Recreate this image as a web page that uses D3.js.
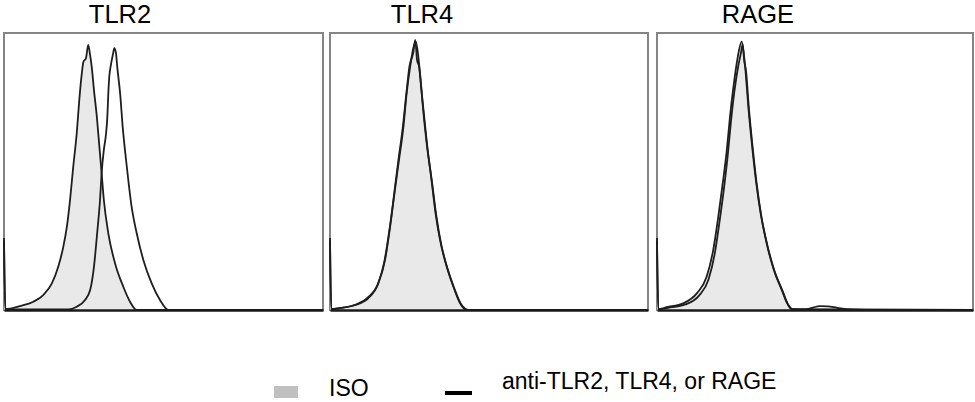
<!DOCTYPE html>
<html>
<head>
<meta charset="utf-8">
<script src="https://cdn.jsdelivr.net/npm/d3@7"></script>
<style>
  body { margin: 0; background: #fff; }
  text { font-family: "Liberation Sans", Arial, sans-serif; fill: #000; }
</style>
</head>
<body>
<svg id="chart" width="975" height="402"></svg>
<script>
// markers, one panel each
var markers = ["TLR2", "TLR4", "RAGE"];

// histogram traces: [channel (0-1000), % of max count]
var isoTLR2 = [[0,26],[4,0.3],[50,1.4],[92,3],[123,5.4],[150,9.6],[170,15.6],[186,22.9],[197,30],[207,39.7],[217,51.7],[228,63.8],[236,75.8],[244,85.5],[249,89.6],[257,90.9],[264,95.7],[270,92],[275,87.8],[282,79.4],[291,69.8],[299,59],[306,49.4],[313,39.7],[327,27.7],[348,16.9],[374,8.4],[395,3],[416,0],[1000,0]];
var antiTLR2 = [[0,25],[4,0.3],[202,0.2],[228,1.2],[254,3.6],[270,7.2],[282,15.6],[292,27.7],[301,39.7],[306,49.4],[313,57.8],[320,63.8],[324,69.8],[327,78.2],[330,84.2],[335,88.4],[341,92],[346,94.5],[351,92.7],[355,87.8],[364,78.2],[372,66.2],[385,51.7],[400,37.3],[416,27.7],[437,18],[463,9.6],[489,3.6],[515,0],[1000,0]];

var isoTLR4 = [[0,26],[4,0.3],[26,0.6],[79,1.8],[120,4.2],[152,9.6],[173,18],[189,30],[204,43.3],[217,54.2],[231,66.2],[241,78.2],[252,87.8],[270,96.9],[283,85.5],[293,72.2],[304,60.2],[318,48.1],[332,34.9],[346,25.3],[364,16.9],[388,8.4],[409,2.4],[430,0],[1000,0]];
var antiTLR4 = [[0,25],[4,0.3],[30,0.7],[82,2],[122,4.8],[150,9.2],[170,17],[187,29],[203,43],[215,54],[229,66],[240,78],[250,88],[262,93],[268,97.5],[274,90],[280,88],[287,80],[296,70],[307,58],[321,46],[335,33.5],[350,23.5],[368,15.5],[392,7.5],[413,2],[436,0],[1000,0]];

var isoRAGE = [[0,26],[4,0.3],[31,1],[83,2.4],[126,6],[157,12],[178,21.7],[194,33.7],[208,45.7],[221,57.8],[231,69.8],[242,80.6],[254,90.3],[268,96.9],[279,87.8],[289,73.4],[300,60.2],[313,46.9],[328,34.9],[347,24.1],[370,14.4],[395,7.2],[412,2.4],[426,0.3],[1000,0]];
var antiRAGE = [[0,25],[4,0.3],[35,0.8],[90,2],[133,5.2],[163,11],[183,20.5],[198,32],[212,44],[224,56],[234,68],[245,79],[257,88],[266,93],[271,96],[276,90],[282,86],[291,72.5],[302,59.5],[315,46],[330,34],[349,23.5],[372,14],[397,7],[414,2.2],[430,0.3],[470,0.2],[494,0.9],[515,1.4],[540,1.3],[570,0.8],[611,0.2],[700,0],[1000,0]];

var isoSeries = [isoTLR2, isoTLR4, isoRAGE];
var antiSeries = [antiTLR2, antiTLR4, antiRAGE];

var legendLabels = ["ISO", "anti-TLR2, TLR4, or RAGE"];

var svg = d3.select("#chart");

// panel frames
var panelLeft = [4, 330, 657],
    panelWidth = [319, 318, 316],
    titleOffset = [116, 92, 101],
    plotTop = 33, plotBottom = 310;

var y = d3.scaleLinear().domain([0, 100]).range([plotBottom, plotTop]);

markers.forEach(function(name, i) {
  var x = d3.scaleLinear().domain([0, 1000]).range([panelLeft[i], panelLeft[i] + panelWidth[i]]);
  var g = svg.append("g");

  g.append("rect")
      .attr("x", panelLeft[i])
      .attr("y", plotTop)
      .attr("width", panelWidth[i])
      .attr("height", plotBottom - plotTop)
      .attr("fill", "#fff")
      .attr("stroke", "#858585")
      .attr("stroke-width", 2);

  var line = d3.line()
      .curve(d3.curveMonotoneX)
      .x(function(d) { return x(d[0]); })
      .y(function(d) { return y(d[1]); });

  var area = d3.area()
      .curve(d3.curveMonotoneX)
      .x(function(d) { return x(d[0]); })
      .y0(y(0))
      .y1(function(d) { return y(d[1]); });

  g.append("path")
      .attr("d", area(isoSeries[i]))
      .attr("fill", "#e9e9e9");

  g.append("path")
      .attr("d", line(isoSeries[i]))
      .attr("fill", "none")
      .attr("stroke", "#1e1e1e")
      .attr("stroke-width", 1.8);

  g.append("path")
      .attr("d", line(antiSeries[i]))
      .attr("fill", "none")
      .attr("stroke", "#1e1e1e")
      .attr("stroke-width", 1.8);

  // baseline
  g.append("g")
      .attr("transform", "translate(0," + plotBottom + ")")
      .call(d3.axisBottom(x).ticks(0).tickSize(0).tickFormat(""))
      .select(".domain")
        .attr("stroke", "#1a1a1a")
        .attr("stroke-width", 2.5);

  svg.append("text")
      .attr("x", panelLeft[i] + titleOffset[i])
      .attr("y", 23)
      .attr("text-anchor", "middle")
      .style("font-size", "25.5px")
      .text(name);
});

// legend
svg.append("rect")
    .attr("x", 274).attr("y", 386)
    .attr("width", 24).attr("height", 12)
    .attr("fill", "#c0c0c0");
svg.append("text")
    .attr("x", 329).attr("y", 396)
    .style("font-size", "23px")
    .text(legendLabels[0]);
svg.append("rect")
    .attr("x", 445).attr("y", 391)
    .attr("width", 27).attr("height", 4)
    .attr("fill", "#000");
svg.append("text")
    .attr("x", 502).attr("y", 389)
    .style("font-size", "23px")
    .text(legendLabels[1]);
</script>
</body>
</html>
